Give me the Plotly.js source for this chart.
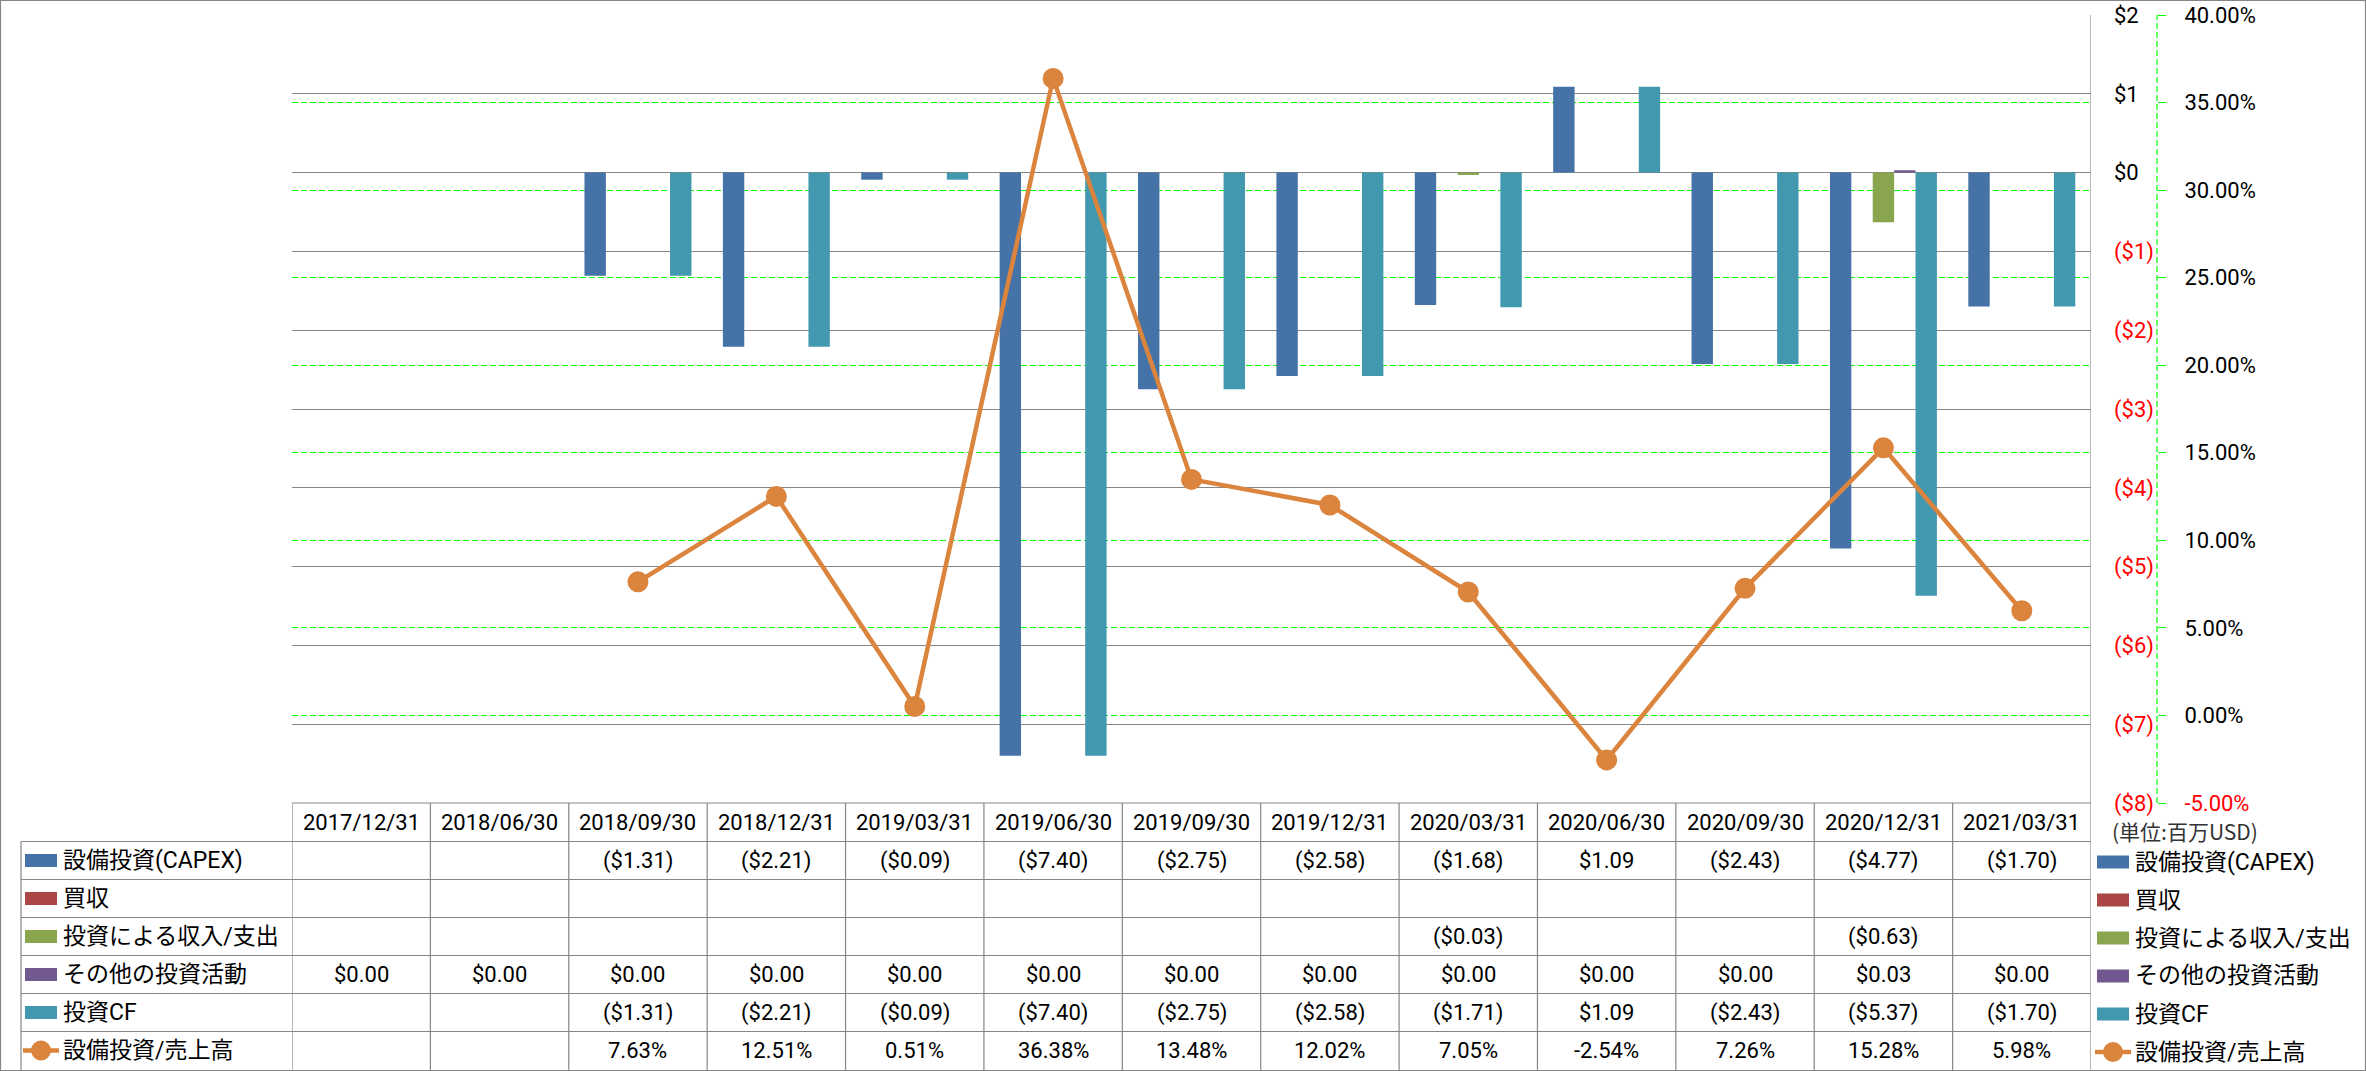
<!DOCTYPE html>
<html>
<head>
<meta charset="utf-8">
<script src="https://cdn.plot.ly/plotly-3.0.1.min.js"></script>
<style>
  html, body { margin: 0; padding: 0; background: #ffffff; }
  #chart { width: 2366px; height: 1071px; }
</style>
</head>
<body>
<div id="chart"></div>
<script>
// ---------------- DATA ----------------
const categories = ['2017/12/31','2018/06/30','2018/09/30','2018/12/31','2019/03/31','2019/06/30','2019/09/30','2019/12/31','2020/03/31','2020/06/30','2020/09/30','2020/12/31','2021/03/31'];
const capex        = [null, null, -1.31, -2.21, -0.09, -7.40, -2.75, -2.58, -1.68, 1.09, -2.43, -4.77, -1.70];
const acquisition  = [null, null, null, null, null, null, null, null, null, null, null, null, null];
const investIncome = [null, null, null, null, null, null, null, null, -0.03, null, null, -0.63, null];
const otherInvest  = [0, 0, 0, 0, 0, 0, 0, 0, 0, 0, 0, 0.03, 0];
const investCF     = [null, null, -1.31, -2.21, -0.09, -7.40, -2.75, -2.58, -1.71, 1.09, -2.43, -5.37, -1.70];
const capexRatio   = [null, null, 7.63, 12.51, 0.51, 36.38, 13.48, 12.02, 7.05, -2.54, 7.26, 15.28, 5.98];

const barNames  = ['設備投資(CAPEX)', '買収', '投資による収入/支出', 'その他の投資活動', '投資CF'];
const lineName  = '設備投資/売上高';
const barColors = ['#4572A7', '#AA4643', '#89A54E', '#71588F', '#4198AF'];
const lineColor = '#DB843D';

const usdTicks = [-8, -7, -6, -5, -4, -3, -2, -1, 0, 1, 2];
const pctTicks = [-5, 0, 5, 10, 15, 20, 25, 30, 35, 40];
const unitNote = '(単位:百万USD)';

// ---------------- LAYOUT HELPERS ----------------
const W = 2366, H = 1071;
const PL = 292, PR = 2091, PT = 15, PB = 803;   // plot area in px
const PAPER_R = 2200;
const paperW = PAPER_R - PL, plotH = PB - PT;
const X = px => (px - PL) / paperW;
const Y = py => (PB - py) / plotH;
const y2Pos = X(2157);

const FONT = 'Roboto, "Noto Sans CJK JP", sans-serif';
const GRID = '#868686';
const GREEN = '#00FF00';
const RED = '#FF0000';

const money = v => v == null ? '' : (v < 0 ? '($' + (-v).toFixed(2) + ')' : '$' + v.toFixed(2));
const pct = v => v == null ? '' : v.toFixed(2) + '%';

const usdText = usdTicks.map(v => v < 0 ? '<span style="color:' + RED + '">($' + (-v) + ')</span>' : '$' + v);
const pctText = pctTicks.map(v => v < 0 ? '<span style="color:' + RED + '">' + v.toFixed(2) + '%</span>' : v.toFixed(2) + '%');

// ---------------- TRACES ----------------
const barSeries = [capex, acquisition, investIncome, otherInvest, investCF];
const traces = barSeries.map((vals, i) => ({
  type: 'bar', name: barNames[i], x: categories, y: vals,
  marker: { color: barColors[i], line: { width: 0 } },
  hoverinfo: 'skip'
}));
traces.push({
  type: 'scatter', mode: 'lines+markers', name: lineName, x: categories, y: capexRatio,
  yaxis: 'y2', connectgaps: false,
  line: { color: lineColor, width: 4.5 },
  marker: { color: lineColor, size: 21, line: { width: 0 } },
  hoverinfo: 'skip'
});

// ---------------- TABLE (shapes + annotations) ----------------
const shapes = [];
const annotations = [];
const line = (x0, y0, x1, y1, xref) => ({ type: 'line', xref: xref || 'paper', yref: 'paper', x0, y0, x1, y1, line: { color: GRID, width: 1.2 }, layer: 'above' });

const rowTops = [841.5, 879.5, 917.5, 955.5, 993.5, 1031.5];
const rowH = 38;
// header top line
shapes.push(line(X(PL), Y(PB), X(PR), Y(PB)));
rowTops.forEach(t => shapes.push(line(X(21), Y(t), X(PR), Y(t))));
// left border of legend column
shapes.push(line(X(21), Y(841.5), X(21), Y(1070)));
// vertical column lines
for (let k = 0; k <= categories.length; k++) {
  const top = (k === categories.length) ? PT : PB;
  shapes.push(line(k - 0.5, Y(top), k - 0.5, Y(1070), 'x'));
}
// outer chart border
shapes.push({ type: 'rect', xref: 'paper', yref: 'paper', x0: X(0.5), x1: X(W - 0.5), y0: Y(0.5), y1: Y(H - 0.5), line: { color: GRID, width: 1.2 }, fillcolor: 'rgba(0,0,0,0)', layer: 'above' });
// secondary axis line (dashed green)
shapes.push({ type: 'line', xref: 'paper', yref: 'paper', x0: y2Pos, x1: y2Pos, y0: 0, y1: 1, line: { color: GREEN, width: 1.2, dash: '6px,3px' }, layer: 'above' });

const cellFont = { family: FONT, size: 22, color: '#000000' };
const cell = (x, y, text, xref) => ({ xref: xref || 'x', yref: 'paper', x, y, xanchor: 'center', yanchor: 'middle', text, showarrow: false, font: cellFont });
// header row
categories.forEach((c, i) => annotations.push(cell(i, Y(822), c)));
// value rows
const rowTexts = [capex.map(money), acquisition.map(money), investIncome.map(money), otherInvest.map(money), investCF.map(money), capexRatio.map(pct)];
rowTexts.forEach((arr, r) => arr.forEach((t, i) => {
  if (t !== '') annotations.push(cell(i, Y(rowTops[r] + rowH / 2), t));
}));

// legend keys (left in table, right outside)
const allNames = barNames.concat([lineName]);
const legFont = { family: FONT, size: 23, color: '#000000' };
function legendKey(xBox0, textX, cy, i) {
  if (i < barNames.length) {
    shapes.push({ type: 'rect', xref: 'paper', yref: 'paper', x0: X(xBox0), x1: X(xBox0 + 32), y0: Y(cy - 6.5), y1: Y(cy + 6.5), line: { width: 0 }, fillcolor: barColors[i], layer: 'above' });
  } else {
    shapes.push({ type: 'line', xref: 'paper', yref: 'paper', x0: X(xBox0 - 2), x1: X(xBox0 + 34), y0: Y(cy), y1: Y(cy), line: { color: lineColor, width: 4.5 }, layer: 'above' });
    shapes.push({ type: 'circle', xref: 'paper', yref: 'paper', x0: X(xBox0 + 16 - 10), x1: X(xBox0 + 16 + 10), y0: Y(cy - 10), y1: Y(cy + 10), line: { width: 0 }, fillcolor: lineColor, layer: 'above' });
  }
  annotations.push({ xref: 'paper', yref: 'paper', x: X(textX), y: Y(cy), xanchor: 'left', yanchor: 'middle', text: allNames[i], showarrow: false, font: legFont });
}
allNames.forEach((n, i) => {
  legendKey(25, 61, rowTops[i] + rowH / 2, i);
  legendKey(2097, 2133, rowTops[i] + rowH / 2 + 1.5, i);
});

annotations.push({ xref: 'paper', yref: 'paper', x: X(2110), y: Y(831), xanchor: 'left', yanchor: 'middle', text: unitNote, showarrow: false, font: { family: '"Noto Sans CJK JP", sans-serif', size: 21, color: '#333333' } });

// ---------------- LAYOUT ----------------
const layout = {
  width: W, height: H,
  margin: { l: PL, r: W - PAPER_R, t: PT, b: H - PB, pad: 0 },
  paper_bgcolor: '#ffffff', plot_bgcolor: '#ffffff',
  showlegend: false,
  barmode: 'group', bargap: 0.227, bargroupgap: 0,
  font: { family: FONT, size: 22, color: '#000000' },
  xaxis: {
    type: 'category', domain: [0, X(PR)], range: [-0.5, categories.length - 0.5],
    showticklabels: false, showgrid: false, zeroline: false, showline: false, ticks: '', fixedrange: true
  },
  yaxis: {
    range: [-8, 2], side: 'right', tickmode: 'array', tickvals: usdTicks, ticktext: usdText,
    showgrid: true, gridcolor: GRID, gridwidth: 1, zeroline: false, showline: false, ticks: '',
    ticklabelstandoff: 22, tickfont: { family: FONT, size: 22, color: '#000000' }, fixedrange: true
  },
  yaxis2: {
    overlaying: 'y', side: 'right', anchor: 'free', position: y2Pos,
    range: [-5, 40], tickmode: 'array', tickvals: pctTicks, ticktext: pctText,
    showgrid: true, gridcolor: GREEN, gridwidth: 1, griddash: '6px,3px', zeroline: false, showline: false,
    ticks: 'outside', ticklen: 8, tickcolor: GREEN, tickwidth: 1,
    ticklabelstandoff: 14, tickfont: { family: FONT, size: 22, color: '#000000' }, fixedrange: true
  },
  shapes: shapes,
  annotations: annotations
};

Plotly.newPlot('chart', traces, layout, { displayModeBar: false, staticPlot: true });
</script>
</body>
</html>
